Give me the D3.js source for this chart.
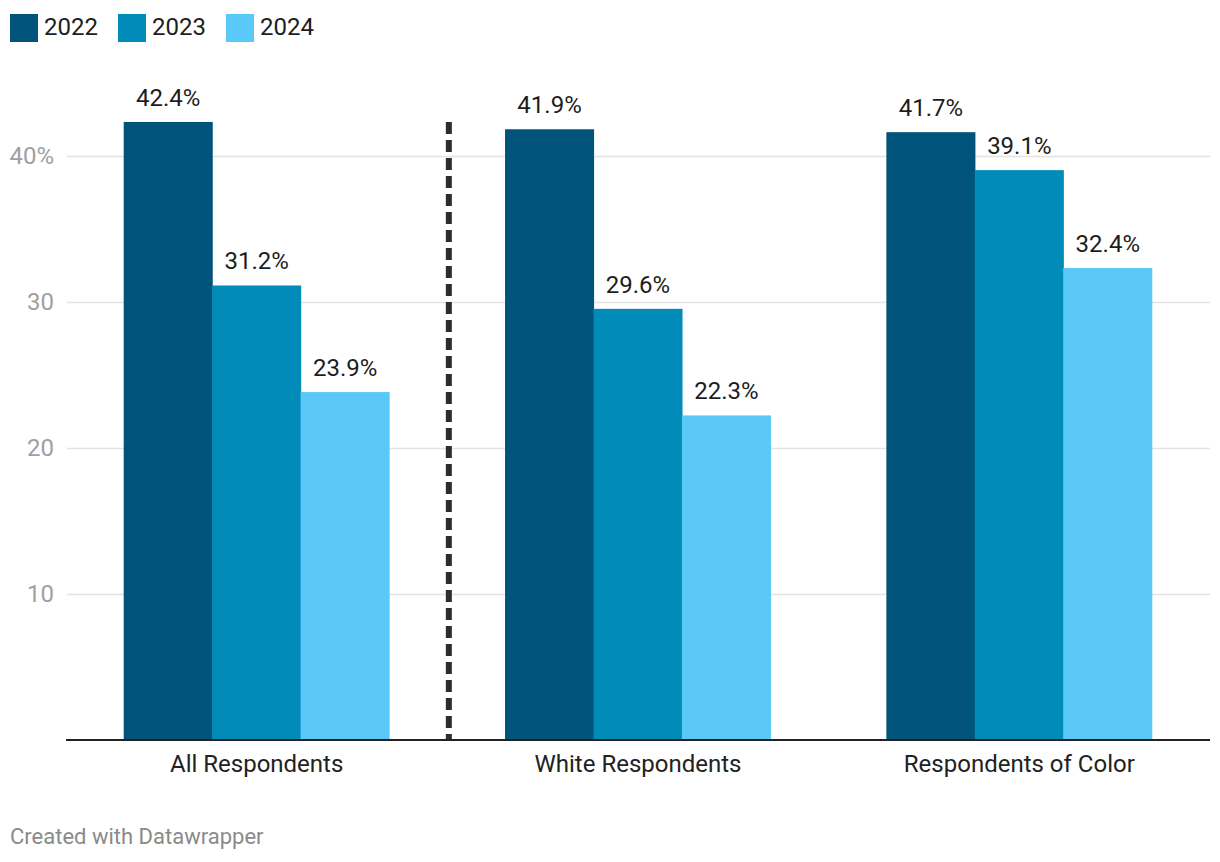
<!DOCTYPE html>
<html>
<head>
<meta charset="utf-8">
<script src="https://cdn.jsdelivr.net/npm/d3@7"></script>
<style>
  html, body { margin: 0; padding: 0; background: #fff; }
  svg { display: block; font-family: Roboto, "Noto Sans", sans-serif; }
</style>
</head>
<body>
<svg id="chart" width="1220" height="862"></svg>
<script>
const categories = ["All Respondents", "White Respondents", "Respondents of Color"];
const seriesNames = ["2022", "2023", "2024"];
const values2022 = [42.4, 41.9, 41.7];
const values2023 = [31.2, 29.6, 39.1];
const values2024 = [23.9, 22.3, 32.4];
const yTicks = [10, 20, 30, 40];
const colors = ["#00547b", "#008bb9", "#5bc9f8"];

(function () {
const seriesValues = [values2022, values2023, values2024];
const data = categories.map((c, i) => ({
  category: c,
  values: seriesNames.map((s, j) => ({ series: s, value: seriesValues[j][i] }))
}));

const svg = d3.select("#chart");
const plotLeft = 66, plotRight = 1210, plotBottom = 741;

const x0 = d3.scaleBand().domain(categories).range([plotLeft, plotRight]).paddingInner(0).paddingOuter(0);
const groupPad = 58;
const x1 = d3.scaleBand().domain(seriesNames).range([groupPad, x0.bandwidth() - groupPad]).padding(0);
const y = d3.scaleLinear().domain([0, 40]).range([plotBottom, plotBottom - 40 * 14.6]);
const color = d3.scaleOrdinal().domain(seriesNames).range(colors);

// Gridlines
svg.append("g").selectAll("line").data(yTicks).join("line")
  .attr("x1", plotLeft + 1).attr("x2", plotRight)
  .attr("y1", d => Math.round(y(d)) - 0.5).attr("y2", d => Math.round(y(d)) - 0.5)
  .attr("stroke", "#e3e3e3").attr("stroke-width", 1.5);

// Y tick labels
svg.append("g").selectAll("text").data(yTicks).join("text")
  .attr("x", 54).attr("y", d => y(d)).attr("dy", "0.3em")
  .attr("text-anchor", "end").attr("font-size", 24).attr("fill", "#a0a0a0")
  .text(d => d === 40 ? d + "%" : d);

// Bars
const groups = svg.append("g").selectAll("g").data(data).join("g")
  .attr("transform", d => `translate(${x0(d.category)},0)`);

groups.selectAll("rect").data(d => d.values).join("rect")
  .attr("x", d => x1(d.series) - 0.3).attr("width", x1.bandwidth() + 0.6)
  .attr("y", d => y(d.value)).attr("height", d => y(0) - y(d.value))
  .attr("fill", d => color(d.series));

groups.selectAll("text").data(d => d.values).join("text")
  .attr("x", d => x1(d.series) + x1.bandwidth() / 2)
  .attr("y", d => y(d.value) - 16)
  .attr("text-anchor", "middle").attr("font-size", 24).attr("fill", "#1d1d1d")
  .text(d => d.value.toFixed(1) + "%");

// Dashed separator
const sepX = x0(categories[1]) + 1.5;
svg.append("line")
  .attr("x1", sepX).attr("x2", sepX)
  .attr("y1", y(values2022[0])).attr("y2", y(0))
  .attr("stroke", "#2d2d2d").attr("stroke-width", 6)
  .attr("stroke-dasharray", "12,6");

// X axis line
svg.append("line")
  .attr("x1", plotLeft).attr("x2", plotRight)
  .attr("y1", y(0) - 1).attr("y2", y(0) - 1)
  .attr("stroke", "#222").attr("stroke-width", 2);

// X labels
svg.append("g").selectAll("text").data(categories).join("text")
  .attr("x", d => x0(d) + x0.bandwidth() / 2)
  .attr("y", 772)
  .attr("text-anchor", "middle").attr("font-size", 24).attr("fill", "#222")
  .text(d => d);

// Legend
const legendX = [10, 118, 226];
const legend = svg.append("g").selectAll("g").data(seriesNames).join("g")
  .attr("transform", (d, i) => `translate(${legendX[i]},14)`);
legend.append("rect").attr("width", 28).attr("height", 28).attr("fill", d => color(d));
legend.append("text").attr("x", 34).attr("y", 20.5)
  .attr("font-size", 24).attr("fill", "#1d1d1d").text(d => d);

// Footer
svg.append("text").attr("x", 10).attr("y", 844)
  .attr("font-size", 22).attr("fill", "#8a8a8a").text("Created with Datawrapper");
})();
</script>
</body>
</html>
